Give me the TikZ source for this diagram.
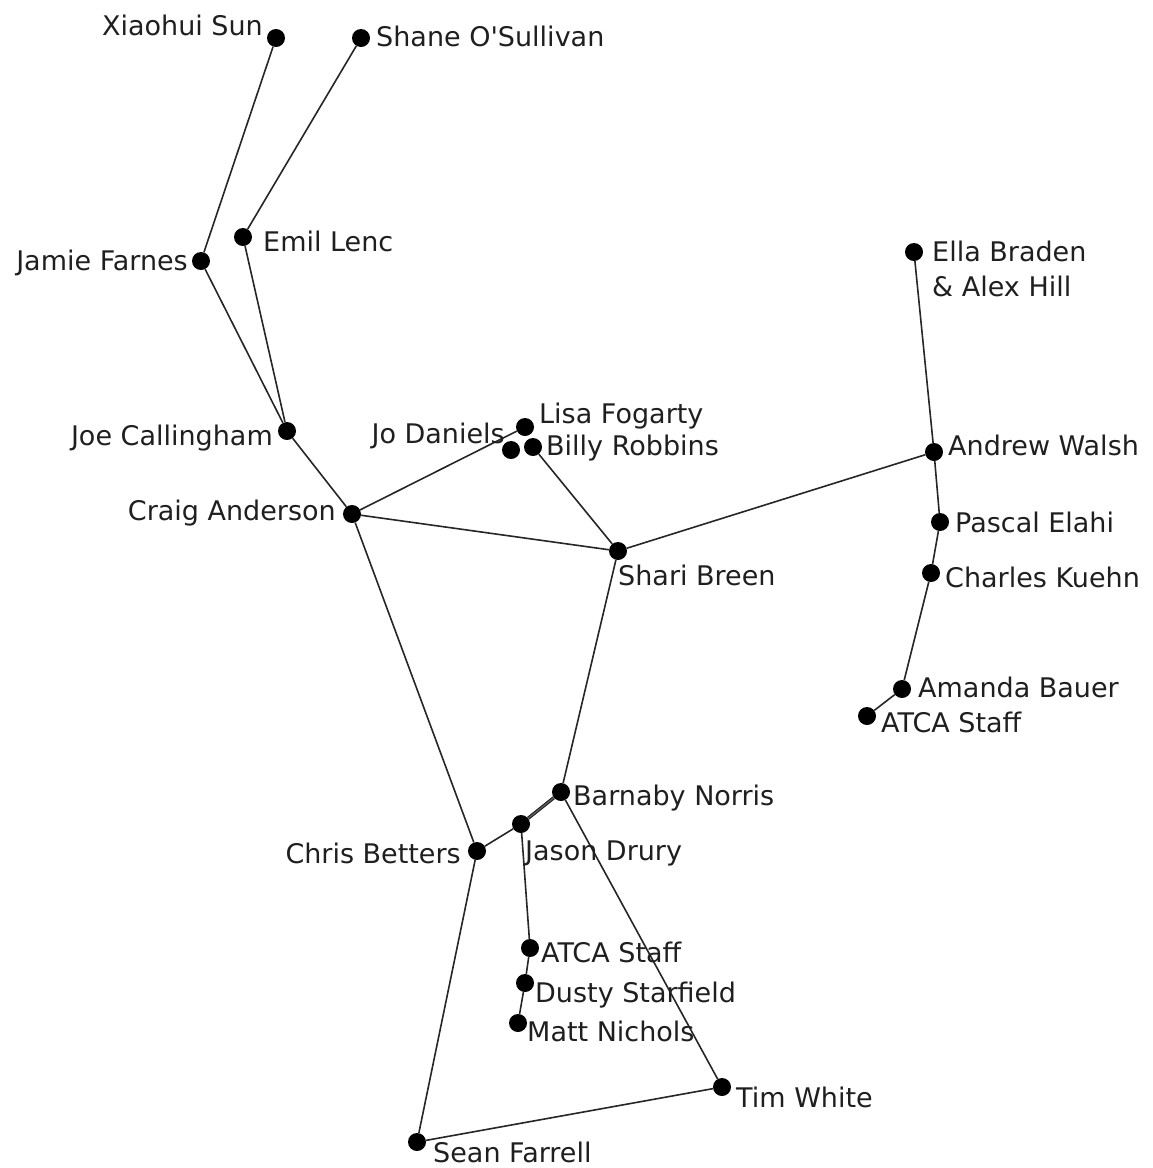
\documentclass[tikz,border=0pt]{standalone}
\usepackage{fontspec}
\setmainfont{DejaVu Sans}[Ligatures=TeXOff]
\begin{document}
\begin{tikzpicture}[x=1pt,y=-1pt,
  dot/.style={circle,fill=black,inner sep=0pt,minimum size=18pt},
  lbl/.style={inner sep=0pt,font=\fontsize{27}{35}\selectfont,text=black!88},
  edge/.style={line width=1.6pt,black!85}]
\useasboundingbox (0,0) rectangle (1152,1168);
% dots
\node[dot] (xs) at (276,38) {};
\node[dot] (so) at (361,38) {};
\node[dot] (el) at (243,237) {};
\node[dot] (jf) at (201,261) {};
\node[dot] (eb) at (914,252) {};
\node[dot] (lf) at (525,427) {};
\node[dot] (jd) at (511,450) {};
\node[dot] (br) at (533,447) {};
\node[dot] (jc) at (287,431) {};
\node[dot] (aw) at (934,452) {};
\node[dot] (ca) at (352,514) {};
\node[dot] (pe) at (940,522) {};
\node[dot] (sb) at (618,551) {};
\node[dot] (ck) at (931,573) {};
\node[dot] (ab) at (902,689) {};
\node[dot] (ata) at (867,716) {};
\node[dot] (bn) at (561,792) {};
\node[dot] (jr) at (521,824) {};
\node[dot] (cb) at (477,851) {};
\node[dot] (atb) at (530,948) {};
\node[dot] (ds) at (525,983) {};
\node[dot] (mn) at (518,1023) {};
\node[dot] (tw) at (722,1087) {};
\node[dot] (sf) at (417,1142) {};
% edges
\draw[edge] (xs) -- (jf);
\draw[edge] (so) -- (el);
\draw[edge] (jf) -- (jc);
\draw[edge] (el) -- (jc);
\draw[edge] (jc) -- (ca);
\draw[edge] (ca) -- (lf);
\draw[edge] (ca) -- (sb);
\draw[edge] (ca) -- (cb);
\draw[edge] (br) -- (sb);
\draw[edge] (sb) -- (aw);
\draw[edge] (sb) -- (bn);
\draw[edge] (eb) -- (aw);
\draw[edge] (aw) -- (pe);
\draw[edge] (pe) -- (ck);
\draw[edge] (ck) -- (ab);
\draw[edge] (ab) -- (ata);
\draw[edge,line width=1.2pt,double=black!60,double distance=1pt] (jr) -- (bn);
\draw[edge] (jr) -- (cb);
\draw[edge] (jr) -- (atb);
\draw[edge] (atb) -- (ds);
\draw[edge] (ds) -- (mn);
\draw[edge] (bn) -- (tw);
\draw[edge] (tw) -- (sf);
\draw[edge] (cb) -- (sf);
% labels
\node[lbl,anchor=base east] (xs-l) at (263,35) {Xiaohui Sun};
\node[lbl,anchor=base west] (so-l) at (376,46) {Shane O'Sullivan};
\node[lbl,anchor=base west] (el-l) at (263,251) {Emil Lenc};
\node[lbl,anchor=base east] (jf-l) at (188,270) {Jamie Farnes};
\node[lbl,anchor=north west,align=left] (eb-l) at (932,241) {Ella Braden\\\& Alex Hill};
\node[lbl,anchor=base west] (lf-l) at (539,423) {Lisa Fogarty};
\node[lbl,anchor=base east] (jd-l) at (505,443) {Jo Daniels};
\node[lbl,anchor=base west] (br-l) at (546,455) {Billy Robbins};
\node[lbl,anchor=base east] (jc-l) at (273,445) {Joe Callingham};
\node[lbl,anchor=base west] (aw-l) at (948,455) {Andrew Walsh};
\node[lbl,anchor=base east] (ca-l) at (336,520) {Craig Anderson};
\node[lbl,anchor=base west] (pe-l) at (955,532) {Pascal Elahi};
\node[lbl,anchor=base west] (sb-l) at (618,585) {Shari Breen};
\node[lbl,anchor=base west] (ck-l) at (945,587) {Charles Kuehn};
\node[lbl,anchor=base west] (ab-l) at (918,697) {Amanda Bauer};
\node[lbl,anchor=base west] (ata-l) at (881,732) {ATCA Staff};
\node[lbl,anchor=base west] (bn-l) at (573,805) {Barnaby Norris};
\node[lbl,anchor=base west] (jr-l) at (525,860) {Jason Drury};
\node[lbl,anchor=base east] (cb-l) at (461,863) {Chris Betters};
\node[lbl,anchor=base west] (atb-l) at (541,962) {ATCA Staff};
\node[lbl,anchor=base west] (ds-l) at (535,1002) {Dusty Starfield};
\node[lbl,anchor=base west] (mn-l) at (527,1041) {Matt Nichols};
\node[lbl,anchor=base west] (tw-l) at (736,1107) {Tim White};
\node[lbl,anchor=base west] (sf-l) at (433,1162) {Sean Farrell};
\end{tikzpicture}
\end{document}
